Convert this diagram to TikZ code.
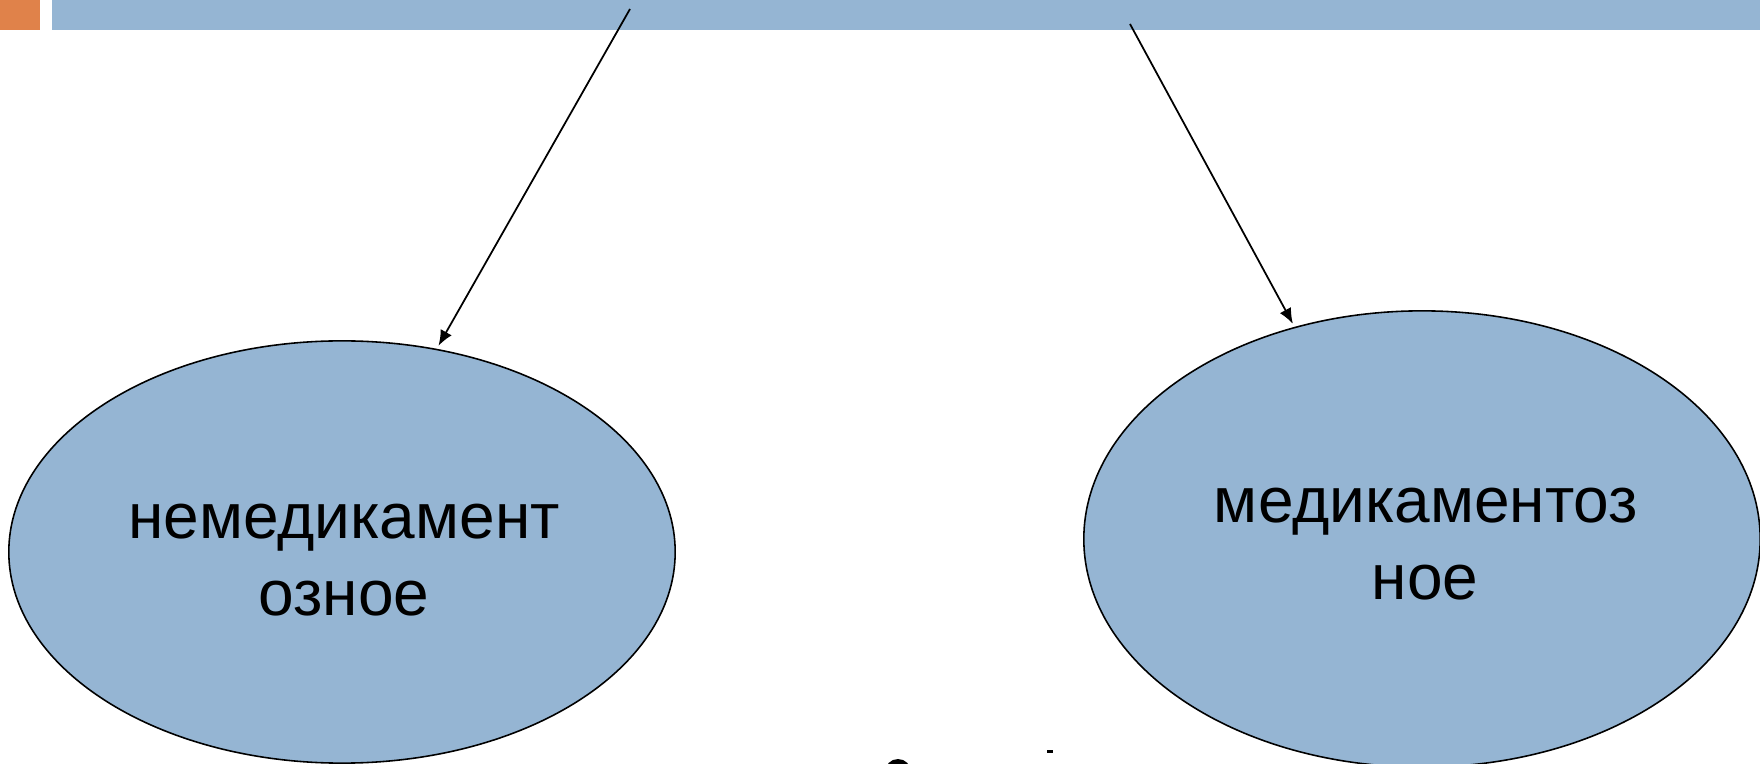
\documentclass[tikz,border=0pt]{standalone}
\usepackage{fontspec}
\setmainfont{Liberation Sans}
\usetikzlibrary{shapes.geometric,arrows.meta}
\definecolor{barblue}{HTML}{95B5D3}
\definecolor{barorange}{HTML}{E0824A}
\tikzset{
  oval/.style={ellipse, draw=black, line width=0.45pt, fill=barblue, inner sep=0pt},
  lbl/.style={font=\fontsize{18.2}{21.9}\selectfont, inner sep=0pt, anchor=base},
  conn/.style={line width=0.5pt, -{Latex[length=4.4pt,width=3.6pt]}, shorten >=1pt}
}
\begin{document}
\begin{tikzpicture}[x=0.01cm,y=-0.01cm]
\useasboundingbox (0,0) rectangle (1760,764);
\fill[barorange] (0,0) rectangle (40,30);
\fill[barblue] (52,0) rectangle (1760,30);
\node[oval, minimum width=6.66cm, minimum height=4.22cm] (L) at (342,552) {};
\node[oval, minimum width=6.76cm, minimum height=4.56cm] (R) at (1422,539) {};
\node[lbl] (L1) at (344,539) {немедикамент};
\node[lbl] (L2) at (344,616) {озное};
\node[lbl] (R1) at (1426,523) {медикаментоз};
\node[lbl] (R2) at (1425,600) {ное};
\coordinate (s1) at (630,9);
\coordinate (s2) at (1130,24);
\draw[conn] (s1) -- (L.65.4);
\draw[conn] (s2) -- (R.121);
\fill[black] (898,772) circle (13);
\fill[black] (1047,750) rectangle (1053,753);
\end{tikzpicture}
\end{document}
